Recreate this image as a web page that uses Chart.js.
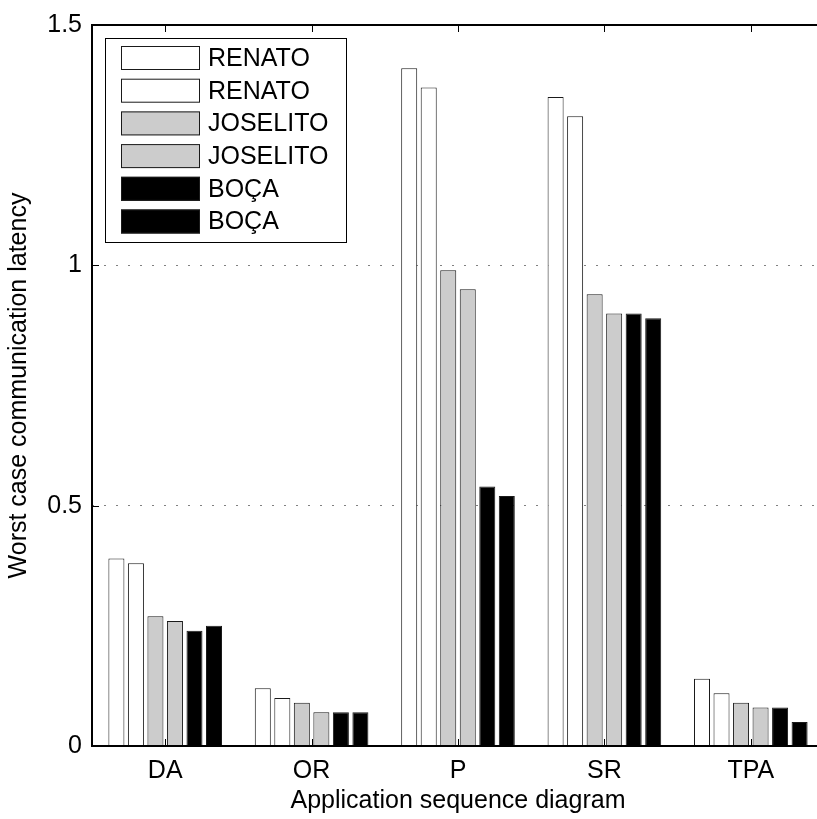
<!DOCTYPE html>
<html>
<head>
<meta charset="utf-8">
<script src="https://cdn.jsdelivr.net/npm/chart.js@4/dist/chart.umd.min.js"></script>
<style>
  html, body { margin: 0; padding: 0; background: #fff; overflow: hidden; }
  #wrap { position: absolute; left: 0; top: 0; width: 832px; height: 819px; }
</style>
</head>
<body>
<div id="wrap"><canvas id="latencyChart" width="832" height="819"></canvas></div>
<script>
const categories = ['DA', 'OR', 'P', 'SR', 'TPA'];
const seriesNames = ['RENATO', 'RENATO', 'JOSELITO', 'JOSELITO', 'BOÇA', 'BOÇA'];
const renato1 = [0.39, 0.12, 1.41, 1.35, 0.14];
const renato2 = [0.38, 0.10, 1.37, 1.31, 0.11];
const joselito1 = [0.27, 0.09, 0.99, 0.94, 0.09];
const joselito2 = [0.26, 0.07, 0.95, 0.90, 0.08];
const boca1 = [0.24, 0.07, 0.54, 0.90, 0.08];
const boca2 = [0.25, 0.07, 0.52, 0.89, 0.05];
const yTicks = [0, 0.5, 1, 1.5];

const fills = ['#ffffff', '#ffffff', '#cccccc', '#cccccc', '#000000', '#000000'];
const FONT = '"Liberation Sans", Arial, Helvetica, sans-serif';
const FS = 25;

const seriesValues = [renato1, renato2, joselito1, joselito2, boca1, boca2];
const datasets = seriesValues.map((vals, i) => ({
  label: seriesNames[i],
  data: vals,
  backgroundColor: fills[i],
  borderColor: '#1a1a1a',
  borderWidth: 1,
  borderSkipped: 'bottom',
  categoryPercentage: 0.8,
  barPercentage: 0.82
}));

// box, inward ticks, boxed legend (matlab look)
const axesDecor = {
  id: 'axesDecor',
  beforeDatasetsDraw(chart) {
    const { ctx, chartArea: a, scales: { x, y } } = chart;
    ctx.save();
    ctx.strokeStyle = '#000';
    ctx.lineWidth = 1;
    ctx.beginPath();
    categories.forEach((c, i) => {
      const px = Math.round(x.getPixelForValue(i)) + 0.5;
      ctx.moveTo(px, a.bottom); ctx.lineTo(px, a.bottom - 7);
      ctx.moveTo(px, a.top); ctx.lineTo(px, a.top + 7);
    });
    yTicks.forEach(v => {
      const py = Math.round(y.getPixelForValue(v)) + 0.5;
      ctx.moveTo(a.left, py); ctx.lineTo(a.left + 7, py);
      ctx.moveTo(a.right, py); ctx.lineTo(a.right - 7, py);
    });
    ctx.stroke();
    ctx.restore();
  },
  afterDatasetsDraw(chart) {
    const { ctx, chartArea: a } = chart;
    ctx.save();
    ctx.strokeStyle = '#000';
    ctx.lineWidth = 2;
    ctx.strokeRect(a.left, a.top, a.right - a.left, a.bottom - a.top);
    ctx.restore();
  },
  afterDraw(chart) {
    const { ctx, chartArea: a } = chart;
    const bx = a.left + 13, by = a.top + 13, bw = 241, bh = 204;
    ctx.save();
    ctx.fillStyle = '#fff';
    ctx.fillRect(bx, by, bw, bh);
    ctx.strokeStyle = '#000';
    ctx.lineWidth = 1;
    ctx.strokeRect(bx + 0.5, by + 0.5, bw, bh);
    ctx.font = FS + 'px ' + FONT;
    ctx.textBaseline = 'middle';
    chart.data.datasets.forEach((ds, i) => {
      const cy = by + 20 + i * 32.7;
      ctx.fillStyle = ds.backgroundColor;
      ctx.fillRect(bx + 16, cy - 12, 79, 24);
      ctx.strokeStyle = '#1a1a1a';
      ctx.strokeRect(bx + 16.5, cy - 11.5, 78, 23);
      ctx.fillStyle = '#000';
      ctx.fillText(ds.label, bx + 103, cy + 1);
    });
    ctx.restore();
  }
};

new Chart(document.getElementById('latencyChart'), {
  type: 'bar',
  data: { labels: categories, datasets: datasets },
  options: {
    responsive: false,
    animation: false,
    layout: { padding: { top: 15, right: 8, left: 0, bottom: 0 } },
    plugins: { legend: { display: false }, tooltip: { enabled: false } },
    scales: {
      x: {
        offset: true,
        grid: { display: false, drawTicks: false },
        border: { display: false },
        ticks: { color: '#000', padding: 10, font: { family: FONT, size: FS } },
        title: {
          display: true,
          text: 'Application sequence diagram',
          color: '#000',
          padding: { top: 0, bottom: 3 },
          font: { family: FONT, size: FS }
        },
        afterFit(scale) { scale.height = 73; }
      },
      y: {
        min: 0,
        max: 1.5,
        afterBuildTicks(scale) { scale.ticks = yTicks.map(v => ({ value: v })); },
        grid: {
          drawTicks: false,
          lineWidth: 1,
          color: ctx => (ctx.tick && (ctx.tick.value === 0.5 || ctx.tick.value === 1)) ? '#808080' : 'rgba(0,0,0,0)'
        },
        border: { display: false, dash: [2, 10] },
        ticks: {
          color: '#000',
          padding: 10,
          font: { family: FONT, size: FS },
          callback: v => String(v)
        },
        title: {
          display: true,
          text: 'Worst case communication latency',
          color: '#000',
          padding: { top: 4, bottom: 0 },
          font: { family: FONT, size: FS }
        },
        afterFit(scale) { scale.width = 92; }
      }
    }
  },
  plugins: [axesDecor]
});
</script>
</body>
</html>
